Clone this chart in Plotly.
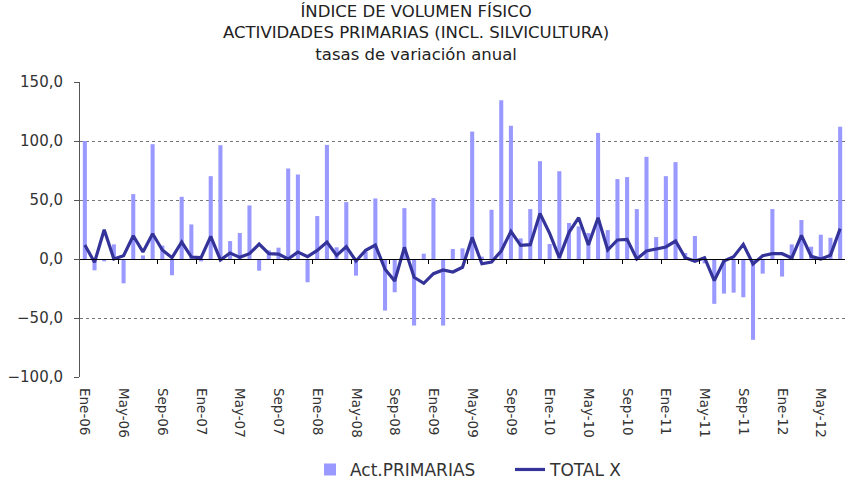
import plotly.graph_objects as go

months_es = ["Ene", "Feb", "Mar", "Abr", "May", "Jun", "Jul", "Ago", "Sep", "Oct", "Nov", "Dic"]
years = ["06", "07", "08", "09", "10", "11", "12"]
n_months = 79  # Ene-06 .. Jul-12
categories = [f"{months_es[i % 12]}-{years[i // 12]}" for i in range(n_months)]

act_primarias = [100, -9.6, -2, 12.4, -20.6, 55, 3, 97.3, 11.3, -13.8,
                 52.7, 29.3, -2, 70.2, 96.4, 15.2, 22, 45.4, -9.9, 7.3,
                 9.6, 76.7, 71.6, -19.7, 36.4, 96.7, 9.9, 48.2, -14.1, 6.2,
                 51.3, -43.7, -28.2, 43.1, -56.4, 4.5, 51.6, -56.4, 8.5, 9,
                 108, 2, 41.7, 134.5, 113, 17.5, 42.3, 82.9, 12.7, 74.4,
                 30.5, 27.6, 22, 106.9, 24.5, 67.7, 69.4, 42.3, 86.6, 18.6,
                 70.2, 82.1, 5.1, 19.5, -3.7, -38, -29.3, -28.5, -32.4, -68.5,
                 -12.4, 42.3, -14.9, 12.4, 33, 10.4, 20.6, 18, 112]

total_x = [11.8, -2.8, 24.8, 0, 2.8, 19.7, 6, 21.4, 7.6, 1.1,
           14.4, 1.7, 1.1, 19.2, -0.8, 5.1, 1.4, 4.5, 12.7, 4.5,
           4.2, 0, 5.9, 2, 7.3, 14.4, 3.1, 10.4, -1.7, 7.3,
           11.8, -8.7, -18.6, 9.9, -15.5, -20.6, -12.4, -9.3, -11, -7,
           18.3, -4, -2.5, 6.8, 23.4, 11.6, 12.1, 38.6, 21.7, 1.1,
           22.6, 35, 11.8, 35, 7.6, 16.1, 16.6, 0, 6.8, 8.2,
           10.2, 15.2, 1.1, -2, 1.1, -18.3, -1.7, 2, 12.4, -4.2,
           2.8, 4.5, 4.5, 0.8, 20, 2.3, 0, 3.1, 25.7]

y_ticks = [-100, -50, 0, 50, 100, 150]

title_text = ("ÍNDICE DE VOLUMEN FÍSICO<br>ACTIVIDADES PRIMARIAS (INCL. SILVICULTURA)"
              "<br>tasas de variación anual")

x_idx = list(range(n_months))
label_idx = x_idx[::4]
label_text = [categories[i] for i in label_idx]
boundary_ticks = [i - 0.5 for i in label_idx[1:]]

fig = go.Figure()
fig.add_trace(go.Bar(
    x=x_idx, y=act_primarias, name="Act.PRIMARIAS",
    marker=dict(color="#9999FF", line=dict(width=0)), width=0.42,
    hovertext=categories,
))
fig.add_trace(go.Scatter(
    x=x_idx, y=total_x, name="TOTAL X", mode="lines",
    line=dict(color="#333399", width=3.2), xaxis="x2",
    hovertext=categories,
))

W, H = 850, 485
L, T, R, B = 80, 82, 5, 108
plot_w = W - L - R
plot_h = H - T - B
xr = [-0.5, n_months - 0.5]
fig.update_layout(
    width=W, height=H,
    margin=dict(l=L, r=R, t=T, b=B, autoexpand=False),
    paper_bgcolor="white", plot_bgcolor="white",
    separators=",.",
    font=dict(family="DejaVu Sans", color="#333333"),
    showlegend=True,
    legend=dict(orientation="h", x=(310 - L) / plot_w, xanchor="left",
                y=-0.315, yanchor="middle", entrywidth=155, entrywidthmode="pixels",
                font=dict(size=17, color="#333333"), traceorder="normal"),
    xaxis=dict(range=xr, tickmode="array", tickvals=label_idx, ticktext=label_text,
               tickangle=90, ticks="", showgrid=False, showline=False, zeroline=False,
               tickfont=dict(size=13.5, color="#333333"), ticklabelstandoff=10,
               automargin=False),
    xaxis2=dict(range=xr, overlaying="x", anchor="free", position=0.4,
                tickmode="array", tickvals=boundary_ticks, ticks="outside", ticklen=4,
                tickcolor="#000000", tickwidth=1, showticklabels=False,
                showline=True, linecolor="#000000", linewidth=1.2,
                showgrid=False, zeroline=False, automargin=False),
    yaxis=dict(range=[-100, 150], tickmode="array", tickvals=y_ticks, tickformat=".1f",
               showgrid=True, gridcolor="#777777", griddash="dot", gridwidth=1,
               zeroline=False, showline=True, linecolor="#555555", linewidth=1,
               ticks="outside", ticklen=5, tickcolor="#555555", ticklabelstandoff=8,
               tickfont=dict(size=15, color="#333333"), automargin=False),
    bargap=0.5,
)

fig.add_annotation(text=title_text, x=(416 - L) / plot_w, y=(H - B - 33) / plot_h,
                   xref="paper", yref="paper", xanchor="center", yanchor="middle",
                   showarrow=False, align="center",
                   font=dict(size=16.5, color="#222222", family="DejaVu Sans"))

# remove the default 8px page margin so the figure sits at the window origin
fig.write_html("out.html", config={"displayModeBar": False},
               post_script="document.body.style.margin='0px';")
